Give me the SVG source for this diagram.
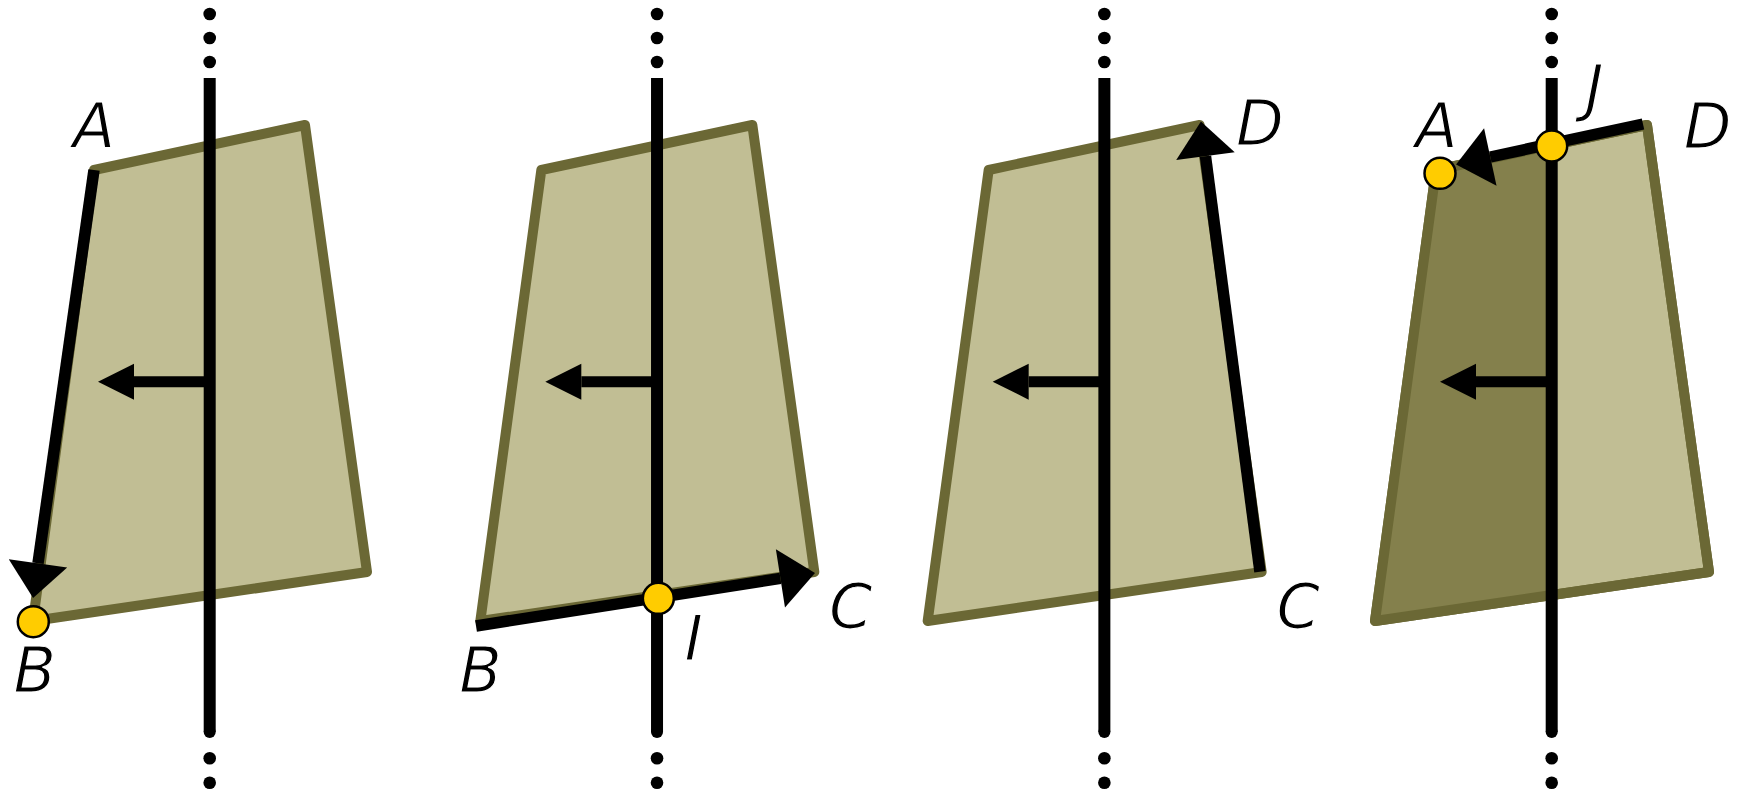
<svg xmlns="http://www.w3.org/2000/svg" width="1749" height="789" viewBox="0 0 1749 789">
<style>
.quad{fill:#c1be94;stroke:#6b6835;stroke-width:10;stroke-linejoin:round}
.dark{fill:#84804c;stroke:none}
.axis{stroke:#000;stroke-width:12;fill:none}
.dot{fill:#000}
.edge{stroke:#000;stroke-width:11.5;fill:none;marker-end:url(#bigHead)}
.norm{stroke:#000;stroke-width:11;fill:none;marker-end:url(#smallHead)}
.pt{fill:#ffcc00;stroke:#000;stroke-width:2.5}
.lbl{font-family:"DejaVu Sans",sans-serif;font-style:oblique;font-size:62px;fill:#000;stroke:#fff;stroke-width:1.2;text-anchor:middle}
</style>
<defs>
<marker id="bigHead" markerUnits="userSpaceOnUse" orient="auto" refX="0" refY="0" markerWidth="40" markerHeight="60" overflow="visible">
<path d="M0,-29.5 L35,0 L0,29.5 Z" fill="#000"/>
</marker>
<marker id="smallHead" markerUnits="userSpaceOnUse" orient="auto" refX="0" refY="0" markerWidth="40" markerHeight="40" overflow="visible">
<path d="M0,-18 L36,0 L0,18 Z" fill="#000"/>
</marker>
<g id="axisTpl">
<circle class="dot" cx="209.7" cy="14" r="6.3"/>
<circle class="dot" cx="209.7" cy="38" r="6.3"/>
<circle class="dot" cx="209.7" cy="62" r="6.3"/>
<line class="axis" x1="209.7" y1="78" x2="209.7" y2="732"/>
<circle class="dot" cx="209.7" cy="732" r="6"/>
<circle class="dot" cx="209.7" cy="758.3" r="6.3"/>
<circle class="dot" cx="209.7" cy="782.7" r="6.3"/>
</g>
</defs>

<g id="panel1">
<polygon class="quad" points="94,170 305,125 367,572 33,621"/>
<use href="#axisTpl"/>
<g id="connectors1">
<line class="norm" x1="209.7" y1="381.7" x2="134" y2="381.7"/>
<line class="edge" x1="94" y1="170" x2="38" y2="563.3"/>
</g>
<circle class="pt" cx="33.3" cy="621.7" r="15.5"/>
<text class="lbl" x="94" y="148">A</text>
<text class="lbl" x="34.7" y="691.7">B</text>
</g>

<g id="panel2" transform="translate(447.33,0)">
<polygon class="quad" points="94,170 305,125 367,572 33,621"/>
<use href="#axisTpl"/>
<g id="connectors2">
<line class="norm" x1="209.7" y1="381.7" x2="134" y2="381.7"/>
<line class="edge" x1="28.7" y1="626" x2="333.1" y2="578.4"/>
</g>
<circle class="pt" cx="211" cy="598.3" r="15.5"/>
<text class="lbl" x="33.2" y="692">B</text>
<text class="lbl" x="246.2" y="660">I</text>
<text class="lbl" x="403.2" y="628.3">C</text>
</g>

<g id="panel3" transform="translate(894.67,0)">
<polygon class="quad" points="94,170 305,125 367,572 33,621"/>
<use href="#axisTpl"/>
<g id="connectors3">
<line class="norm" x1="209.7" y1="381.7" x2="134" y2="381.7"/>
<line class="edge" x1="365.3" y1="571.7" x2="310.8" y2="156.2"/>
</g>
<text class="lbl" x="365.3" y="145">D</text>
<text class="lbl" x="403.6" y="628.3">C</text>
</g>

<g id="panel4" transform="translate(1342,0)">
<polygon class="quad" points="94,170 305,125 367,572 33,621"/>
<polygon class="dark" points="94,170 209.7,145.3 209.7,595 33,621"/>
<polygon points="94,170 305,125 367,572 33,621" fill="none" stroke="#6b6835" stroke-width="10" stroke-linejoin="round"/>
<use href="#axisTpl"/>
<g id="connectors4">
<line class="norm" x1="209.7" y1="381.7" x2="134" y2="381.7"/>
<line class="edge" x1="301" y1="124" x2="148.3" y2="157"/>
</g>
<circle class="pt" cx="98" cy="173.3" r="15.5"/>
<circle class="pt" cx="209.7" cy="146" r="15.5"/>
<text class="lbl" x="94.5" y="148">A</text>
<text class="lbl" x="252.5" y="109">J</text>
<text class="lbl" x="365.5" y="148">D</text>
</g>
</svg>
